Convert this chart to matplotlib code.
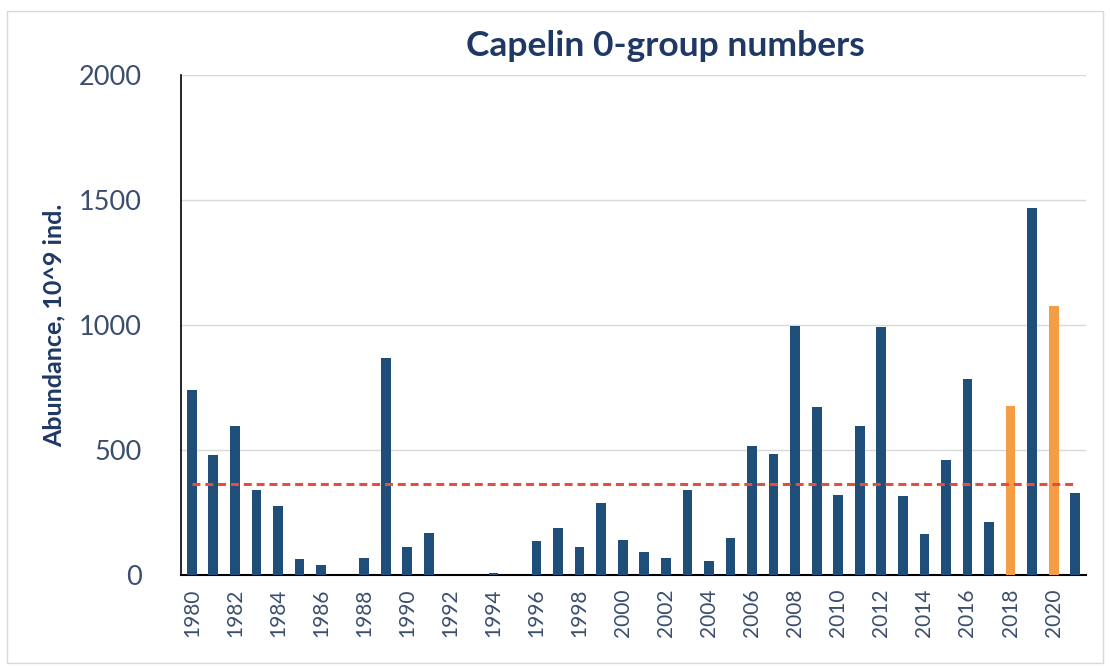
import matplotlib.pyplot as plt
from matplotlib.patches import Rectangle

# data (10^9 individuals)
years = list(range(1980, 2022))
abundance = [740, 480, 596, 340, 276, 64, 40, 0, 68, 868,
             112, 168, 0, 0, 10, 0, 136, 188, 112, 288,
             140, 92, 68, 340, 56, 148, 516, 484, 996, 672,
             320, 596, 992, 316, 164, 460, 784, 212, 676, 1468,
             1076, 328]
highlight_years = [2018, 2020]
mean_level = 366

navy = '#1F4E79'
orange = '#F59D45'
text_blue = '#1F3864'
tick_grey = '#3B4E6E'


def plot_capelin():
    plt.rcParams['font.family'] = ['Lato', 'DejaVu Sans']

    fig = plt.figure(figsize=(11.1, 6.66), dpi=100)
    ax = fig.add_axes([181 / 1110, 1 - 575 / 666, (1086 - 181) / 1110, 500 / 666])

    # faint frame around the chart area
    fig.patches.append(Rectangle((7 / 1110, 0.005), 1 - 14 / 1110, 1 - 14 / 666,
                                 transform=fig.transFigure, fill=False,
                                 edgecolor='#D9D9D9', linewidth=1))

    x = list(range(len(years)))
    colors = [orange if y in highlight_years else navy for y in years]
    ax.bar(x, abundance, width=0.45, color=colors, zorder=3)

    ax.plot(x, [mean_level] * len(x), color='#E05040', linestyle='--',
            linewidth=2.2, dashes=(2.6, 1.6), zorder=4)

    ax.set_xlim(-0.5, len(years) - 0.5)
    ax.set_ylim(0, 2000)
    ax.set_yticks([0, 500, 1000, 1500, 2000])
    ax.yaxis.grid(True, color='#D9D9D9', linewidth=1, zorder=0)

    ax.set_xticks(x[::2])
    ax.set_xticklabels([str(y) for y in years[::2]], rotation=90)
    ax.tick_params(axis='x', length=0, pad=10, labelsize=15, labelcolor=tick_grey)
    ax.tick_params(axis='y', length=0, pad=28, labelsize=19.5, labelcolor=tick_grey)

    for side in ['top', 'right']:
        ax.spines[side].set_visible(False)
    ax.spines['left'].set_color('black')
    ax.spines['bottom'].set_color('black')
    ax.spines['left'].set_linewidth(1.2)
    ax.spines['bottom'].set_linewidth(1.5)

    ax.set_ylabel('Abundance, 10^9 ind.', fontsize=18, fontweight='bold',
                  color=text_blue, labelpad=10)
    fig.text(0.599, 0.931, 'Capelin 0-group numbers', fontsize=25.5,
             fontweight='bold', color=text_blue, ha='center', va='center')

    fig.savefig('out.png', dpi=100)


if __name__ == '__main__':
    plot_capelin()
